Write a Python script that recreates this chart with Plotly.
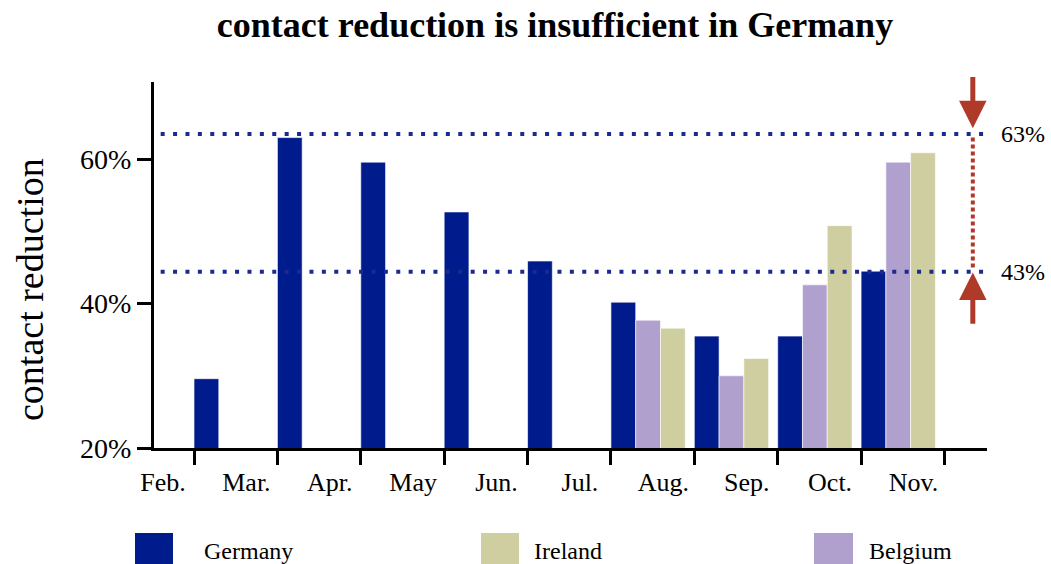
import plotly.graph_objects as go

# ---- data ----
months = ["Feb.", "Mar.", "Apr.", "May", "Jun.", "Jul.", "Aug.", "Sep.", "Oct.", "Nov."]
germany = [29.6, 63.0, 59.6, 52.7, 45.9, 40.2, 35.5, 35.5, 44.5, None]
belgium = [None, None, None, None, None, 37.7, 30.0, 42.6, 59.6, None]
ireland = [None, None, None, None, None, 36.6, 32.4, 50.8, 60.9, None]
ref_levels = [63.5, 44.4]
ref_labels = ["63%", "43%"]
y_ticks = [20, 40, 60]
y_tick_text = ["20%", "40%", "60%"]

# ---- style ----
FONT = "Liberation Serif"
C_DE = "#001C8C"
C_BE = "#B0A0CE"
C_IE = "#CECEA0"
C_DOT = "#1B2A8F"
C_RED = "#B03A2A"

OFF = 0  # body margin removed via post_script
W, H = 1051 - OFF, 564 - OFF
ML, MT = 154 - OFF, 82 - OFF
MR = W - (987 - OFF)
MB = H - (448 - OFF)
PW, PH = W - ML - MR, H - MT - MB


def px(xs):  # screen x -> paper
    return (xs - OFF - ML) / PW


def py(ys):  # screen y -> paper
    return (H - MB - (ys - OFF)) / PH


bw = 0.297
x = list(range(len(months)))

fig = go.Figure()
for name, vals, col, off in [("Germany", germany, C_DE, 0.0),
                             ("Belgium", belgium, C_BE, bw),
                             ("Ireland", ireland, C_IE, 2 * bw)]:
    fig.add_trace(go.Bar(x=x, y=vals, name=name, marker_color=col,
                         marker_line=dict(color="white", width=0.6),
                         width=bw, offset=off, showlegend=False))

shapes = []
for lv in ref_levels:
    shapes.append(dict(type="line", xref="paper", x0=0.008, x1=1.0, yref="y", y0=lv, y1=lv,
                       line=dict(color=C_DOT, width=4, dash="4px,8.4px"), layer="above"))

xa = 9.34
shapes.append(dict(type="line", xref="x", x0=xa, x1=xa, yref="y",
                   y0=ref_levels[1] + 0.6, y1=ref_levels[0] - 0.4,
                   line=dict(color=C_RED, width=4, dash="4px,3px"), layer="above"))

annotations = []
# arrows
annotations.append(dict(x=xa, y=ref_levels[0] + 0.8, xref="x", yref="y",
                        ax=xa, ay=71.6, axref="x", ayref="y", showarrow=True,
                        arrowhead=2, arrowwidth=5, arrowsize=1.1, arrowcolor=C_RED, text=""))
annotations.append(dict(x=xa, y=ref_levels[1] - 0.1, xref="x", yref="y",
                        ax=xa, ay=37.0, axref="x", ayref="y", showarrow=True,
                        arrowhead=2, arrowwidth=5, arrowsize=1.1, arrowcolor=C_RED, text=""))
for lv, lab in zip(ref_levels, ref_labels):
    annotations.append(dict(x=px(999), xref="paper", y=lv, yref="y", text=lab,
                            showarrow=False, xanchor="left", yanchor="middle",
                            font=dict(family=FONT, size=24, color="black")))

# y axis title
annotations.append(dict(x=px(30), xref="paper", y=py(290), yref="paper",
                        text="contact reduction", textangle=-90, showarrow=False,
                        xanchor="center", yanchor="middle",
                        font=dict(family=FONT, size=38, color="black")))

# custom legend
legend_items = [("Germany", C_DE, 135, 173, 202),
                ("Ireland", C_IE, 481, 519, 532),
                ("Belgium", C_BE, 814, 853, 867)]
for name, col, x0, x1, xt in legend_items:
    shapes.append(dict(type="rect", xref="paper", yref="paper",
                       x0=px(x0), x1=px(x1), y0=py(533), y1=py(566),
                       fillcolor=col, line=dict(width=0)))
    annotations.append(dict(x=px(xt), xref="paper", y=py(551), yref="paper", text=name,
                            showarrow=False, xanchor="left", yanchor="middle",
                            font=dict(family=FONT, size=24, color="black")))

fig.update_layout(
    width=W, height=H,
    margin=dict(l=ML, r=MR, t=MT, b=MB),
    plot_bgcolor="white", paper_bgcolor="white",
    barmode="overlay",
    title=dict(text="<b>contact reduction is insufficient in Germany</b>",
               x=(555 - OFF) / W, xanchor="center", y=1 - (24 - OFF) / H, yanchor="middle",
               yref="container",
               font=dict(family=FONT, size=36, color="black")),
    xaxis=dict(range=[-0.48, 9.51], tickvals=x, ticktext=months,
               ticks="outside", ticklen=14, tickwidth=3, tickcolor="black",
               showline=True, linewidth=3, linecolor="black",
               showgrid=False, zeroline=False, ticklabelshift=-31,
               ticklabelstandoff=-5,
               tickfont=dict(family=FONT, size=26, color="black")),
    yaxis=dict(range=[20, 70.7], tickvals=y_ticks, ticktext=y_tick_text,
               ticks="outside", ticklen=14, tickwidth=3, tickcolor="black",
               showline=True, linewidth=3, linecolor="black",
               showgrid=False, zeroline=False,
               tickfont=dict(family=FONT, size=28, color="black")),
    shapes=shapes,
    annotations=annotations,
    showlegend=False,
)

fig.write_html("out.html", config={"displayModeBar": False},
               post_script="document.body.style.margin='0';document.body.style.overflow='hidden';")
